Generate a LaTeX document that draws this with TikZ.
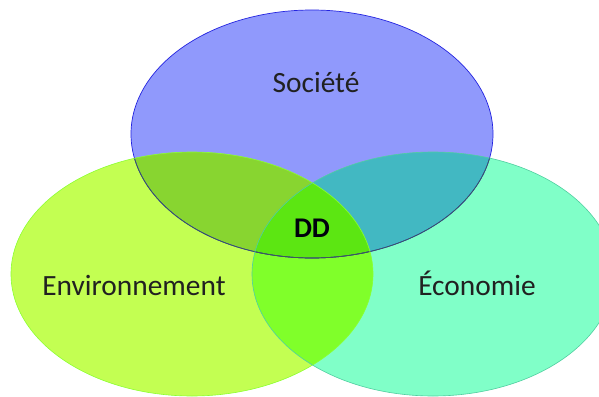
\documentclass[tikz,border=0pt]{standalone}
\usepackage{fontspec}
\setmainfont{Carlito}
\begin{document}
\begin{tikzpicture}[x=1pt,y=-1pt,
  lbl/.style={anchor=base,inner sep=0pt,font=\fontsize{29.4}{31}\selectfont,text=black!87},
  ctr/.style={anchor=base,inner sep=0pt,font=\fontsize{28.5}{30}\selectfont\bfseries,text=black!95!blue}]
\definecolor{cTop}{HTML}{9099FC}
\definecolor{cLeft}{HTML}{C3FF52}
\definecolor{cRight}{HTML}{80FFC8}
\definecolor{cTL}{HTML}{88D530}
\definecolor{cTR}{HTML}{42B8C2}
\definecolor{cLR}{HTML}{80FF2A}
\definecolor{cAll}{HTML}{5CE612}
\definecolor{bTop}{HTML}{2424E0}
\definecolor{bTopIn}{HTML}{3C5A58}
\definecolor{bLeft}{HTML}{8CFF30}
\definecolor{bRight}{HTML}{50CFA0}
\def\Etop{(312,134) ellipse [x radius=181pt, y radius=124pt]}
\def\Eleft{(192,274) ellipse [x radius=181pt, y radius=122pt]}
\def\Eright{(433,274) ellipse [x radius=181pt, y radius=122pt]}
\clip (0,0) rectangle (599,396);
\fill[white] (0,0) rectangle (599,396);
% single regions
\fill[cLeft] \Eleft;
\fill[cRight] \Eright;
\begin{scope}\clip \Eleft; \fill[cLR] \Eright; \end{scope}
\fill[cTop] \Etop;
\begin{scope}\clip \Etop; \fill[cTL] \Eleft; \end{scope}
\begin{scope}\clip \Etop; \fill[cTR] \Eright; \end{scope}
\begin{scope}\clip \Etop; \clip \Eleft; \fill[cAll] \Eright; \end{scope}
% borders
\draw[bTop,line width=0.7pt] \Etop;
\begin{scope}\clip \Eleft; \draw[bTopIn,line width=0.7pt] \Etop; \end{scope}
\begin{scope}\clip \Eright; \draw[bTopIn,line width=0.7pt] \Etop; \end{scope}
\draw[bLeft,line width=0.6pt] \Eleft;
\draw[bRight,line width=0.6pt] \Eright;
% labels
\node[lbl] (soc) at (316,92) {Société};
\node[lbl] (env) at (134,295) {Environnement};
\node[lbl] (eco) at (477,295) {Économie};
\node[ctr] (dd) at (312,237) {DD};
\end{tikzpicture}
\end{document}
